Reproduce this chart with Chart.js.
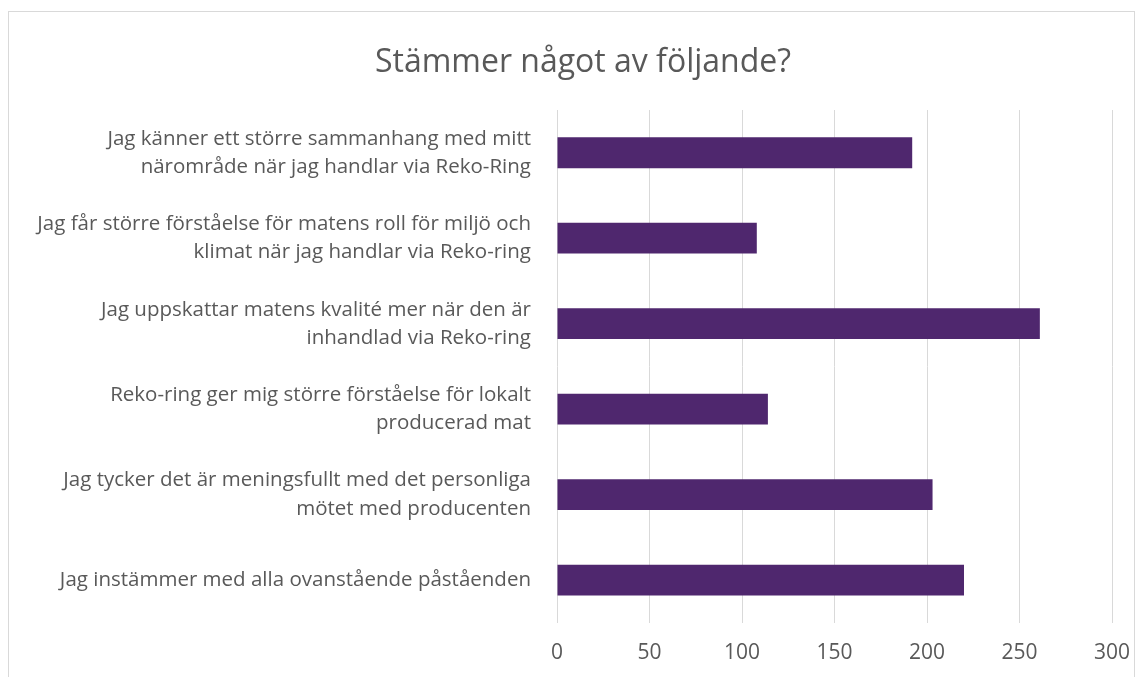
<!DOCTYPE html>
<html>
<head>
<meta charset="utf-8">
<script src="https://cdn.jsdelivr.net/npm/chart.js@4"></script>
<style>
	html, body { margin: 0; padding: 0; background: #fff; overflow: hidden; }
	#wrap { position: relative; width: 1145px; height: 677px; }
	#frame {
		position: absolute; left: 8px; top: 11px; width: 1127px; height: 700px;
		border: 1px solid #d9d9d9; box-sizing: border-box;
	}
	#title {
		position: absolute; left: 0; top: 40px; width: 1166px; text-align: center;
		font: 32px "Open Sans", "Liberation Sans", sans-serif; color: #595959;
		line-height: 40px;
	}
	canvas { position: absolute; left: 0; top: 0; }
</style>
</head>
<body>
<div id="wrap">
	<div id="frame"></div>
	<canvas id="barChart" width="1145" height="677"></canvas>
	<div id="title"></div>
</div>
<script>
	// Chart data
	const chartTitle = 'Stämmer något av följande?';
	const categories = [
		['Jag känner ett större sammanhang med mitt', 'närområde när jag handlar via Reko-Ring'],
		['Jag får större förståelse för matens roll för miljö och', 'klimat när jag handlar via Reko-ring'],
		['Jag uppskattar matens kvalité mer när den är', 'inhandlad via Reko-ring'],
		['Reko-ring ger mig större förståelse för lokalt', 'producerad mat'],
		['Jag tycker det är meningsfullt med det personliga', 'mötet med producenten'],
		['Jag instämmer med alla ovanstående påståenden']
	];
	const answers = [192, 108, 261, 114, 203, 220];
	const xTicks = [0, 50, 100, 150, 200, 250, 300];

	const textColor = '#595959';
	const fontFamily = '"Open Sans", "Liberation Sans", sans-serif';

	// Title sits in the page so it can be centred on the whole frame
	document.getElementById('title').textContent = chartTitle;

	const ctx = document.getElementById('barChart').getContext('2d');

	new Chart(ctx, {
		type: 'bar',
		data: {
			labels: categories,
			datasets: [{
				label: 'Antal',
				data: answers,
				backgroundColor: '#4f276e',
				borderWidth: 0,
				barPercentage: 0.36,
				categoryPercentage: 1
			}]
		},
		options: {
			indexAxis: 'y',
			responsive: false,
			animation: false,
			layout: {
				padding: { left: 12, right: 33, top: 110, bottom: 0 }
			},
			plugins: {
				legend: { display: false },
				tooltip: { enabled: false },
				title: { display: false }
			},
			scales: {
				x: {
					min: 0,
					max: 300,
					afterBuildTicks: function(scale) {
						scale.ticks = xTicks.map(function(v) { return { value: v }; });
					},
					afterFit: function(scale) {
						// fixed band under the plot, no extra side padding
						scale.height = 51;
						scale.paddingLeft = 0;
						scale.paddingRight = 0;
					},
					grid: { color: '#d9d9d9', lineWidth: 1, drawTicks: false },
					border: { display: false },
					ticks: {
						color: textColor,
						font: { family: fontFamily, size: 21, lineHeight: 1.2 },
						padding: 18
					}
				},
				y: {
					afterFit: function(scale) {
						scale.width = 545;
					},
					grid: { display: false, drawTicks: false },
					border: { display: false },
					ticks: {
						color: textColor,
						font: { family: fontFamily, size: 20.5, lineHeight: 1.37 },
						padding: 26
					}
				}
			}
		}
	});
</script>
</body>
</html>
